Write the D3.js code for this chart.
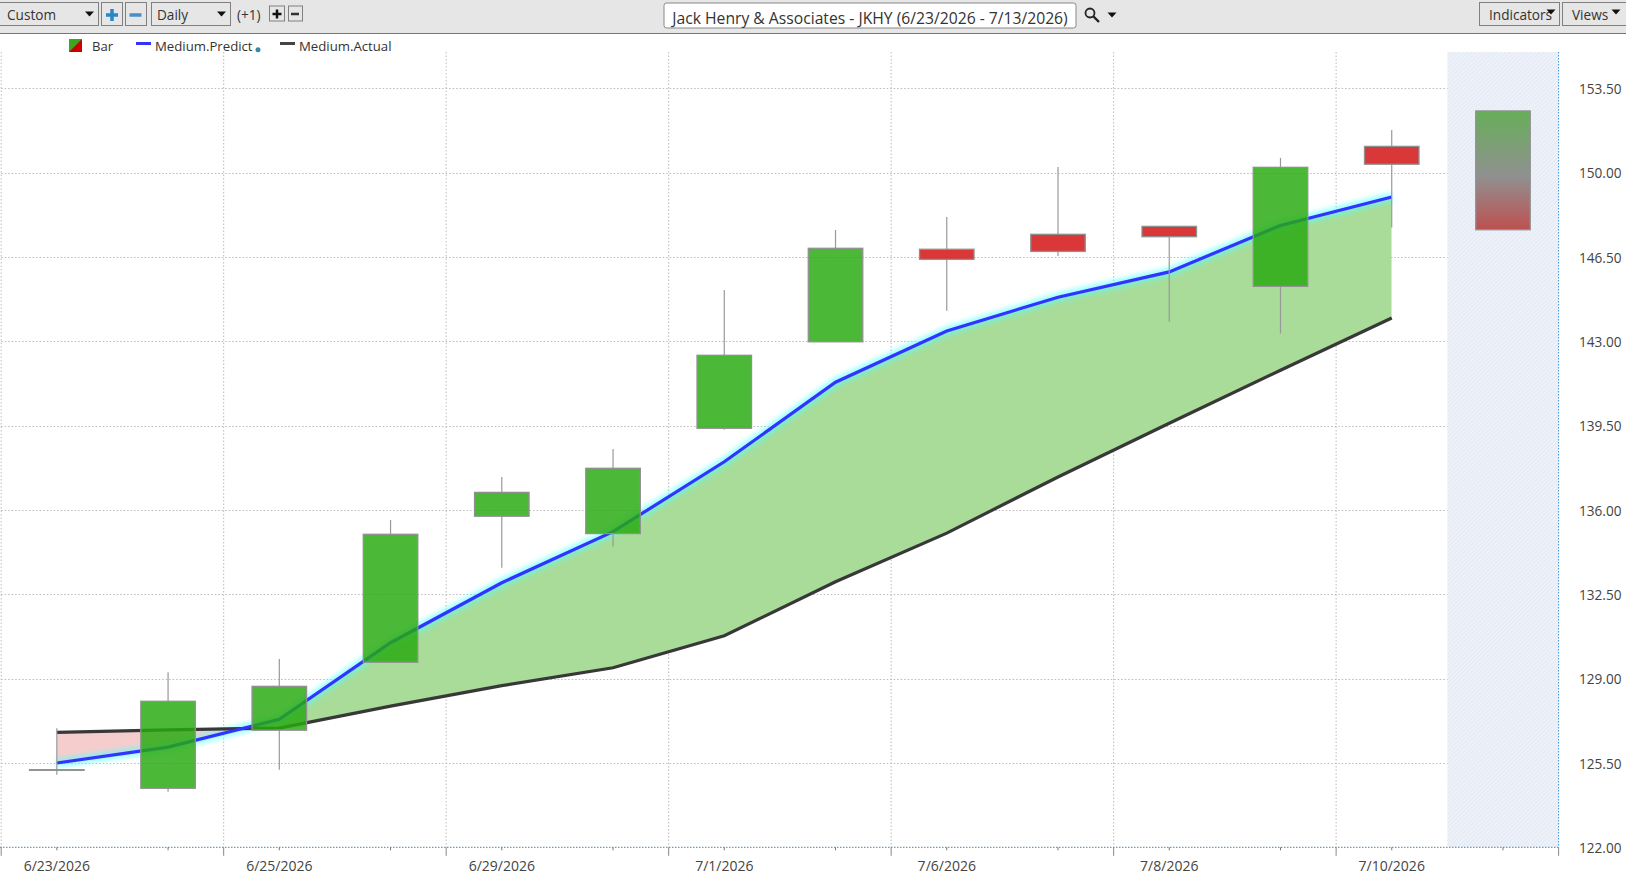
<!DOCTYPE html>
<html>
<head>
<meta charset="utf-8">
<script src="https://cdn.jsdelivr.net/npm/d3@7"></script>
<style>
  body { margin: 0; background: #fff; overflow: hidden; }
  svg { display: block; }
  text { font-family: "Open Sans", "Noto Sans", sans-serif; fill: #333; }
  .axis text { fill: #444; }
  .axis .domain { display: none; }
</style>
</head>
<body>
<div id="chart"></div>
<script>
/**
 * DATA
 * */
const dates = ["6/23/2026", "6/24/2026", "6/25/2026", "6/26/2026", "6/29/2026", "6/30/2026", "7/1/2026",
  "7/2/2026", "7/6/2026", "7/7/2026", "7/8/2026", "7/9/2026", "7/10/2026", "7/13/2026"];
const opens = [125.22, 124.45, 126.86, 129.68, 135.74, 135.02, 139.39, 142.98, 146.82, 147.44, 147.77, 145.28, 151.09];
const closes = [125.22, 128.06, 128.68, 134.99, 136.73, 137.73, 142.42, 146.86, 146.40, 146.73, 147.34, 150.22, 150.35];
const highs = [126.94, 129.26, 129.81, 135.58, 137.37, 138.53, 145.13, 147.62, 148.16, 150.23, 147.77, 150.61, 151.77];
const lows = [125.01, 124.31, 125.22, 129.68, 133.60, 134.48, 139.33, 142.98, 144.27, 146.54, 143.81, 143.32, 147.72];
const predict = [125.50, 126.16, 127.31, 130.49, 132.98, 135.10, 138.00, 141.30, 143.43, 144.83, 145.88, 147.81, 148.99];
const actual = [126.77, 126.87, 126.95, 127.86, 128.71, 129.45, 130.78, 133.02, 135.04, 137.37, 139.60, 141.80, 143.97];
const forecastHigh = 152.56;
const forecastLow = 147.63;
const yTicks = [122, 125.5, 129, 132.5, 136, 139.5, 143, 146.5, 150, 153.5];

/**
 * CONSTANTS
 * */
const width = 1626, height = 883;
const plot = { left: 1.2, right: 1558.6, top: 52, bottom: 847.3 };
const green = "rgba(40,170,15,0.83)", red = "rgba(214,34,34,0.9)", wick = "#999", edge = "#909090";

const svg = d3.select("#chart").append("svg").attr("width", width).attr("height", height);
const defs = svg.append("defs");

const x = d3.scaleBand().domain(d3.range(dates.length)).range([plot.left, plot.right]);
const y = d3.scaleLinear().domain([122, 153.5]).range([plot.bottom, 88.3]);
const cx = i => x(i) + x.bandwidth() / 2;
const candleW = x.bandwidth() * 0.49;

/**
 * GRID
 * */
const grid = svg.append("g").attr("stroke", "#bbb").attr("stroke-dasharray", "1.5 2");
grid.selectAll("line.h").data(yTicks.slice(1)).join("line")
  .attr("x1", plot.left).attr("x2", plot.right)
  .attr("y1", d => Math.round(y(d)) + 0.5).attr("y2", d => Math.round(y(d)) + 0.5);
grid.selectAll("line.v").data(dates.map((d, i) => i).filter(i => i % 2 == 0)).join("line")
  .attr("x1", i => x(i)).attr("x2", i => x(i))
  .attr("y1", plot.top).attr("y2", plot.bottom);

/**
 * FORECAST BAND
 * */
const hatch = defs.append("pattern").attr("id", "hatch").attr("width", 3).attr("height", 3)
  .attr("patternUnits", "userSpaceOnUse").attr("patternTransform", "rotate(45)");
hatch.append("rect").attr("width", 3).attr("height", 3).attr("fill", "#f0f3f9");
hatch.append("rect").attr("width", 1.5).attr("height", 3).attr("fill", "#e4eaf5");

svg.append("rect")
  .attr("x", x(13)).attr("y", plot.top)
  .attr("width", x.bandwidth()).attr("height", plot.bottom - plot.top)
  .attr("fill", "url(#hatch)");
svg.append("line")
  .attr("x1", plot.right).attr("x2", plot.right).attr("y1", plot.top).attr("y2", plot.bottom)
  .attr("stroke", "#3a96dd").attr("stroke-dasharray", "1.5 1.5");

/**
 * AREA BETWEEN THE TWO LINES
 * */
const idx = d3.range(predict.length);
const between = d3.area().x(cx).y0(i => y(predict[i])).y1(i => y(actual[i]));
defs.append("clipPath").attr("id", "aboveActual").append("path")
  .attr("d", d3.area().x(cx).y0(0).y1(i => y(actual[i]))(idx));
defs.append("clipPath").attr("id", "belowActual").append("path")
  .attr("d", d3.area().x(cx).y0(height).y1(i => y(actual[i]))(idx));

svg.append("path").attr("d", between(idx)).attr("fill", "#a9dc99").attr("clip-path", "url(#aboveActual)");
svg.append("path").attr("d", between(idx)).attr("fill", "#f6cdcd").attr("clip-path", "url(#belowActual)");

/**
 * LINES
 * */
const line = d3.line().x(cx);
defs.append("filter").attr("id", "glow").attr("x", "-5%").attr("y", "-5%").attr("width", "110%").attr("height", "110%")
  .append("feGaussianBlur").attr("stdDeviation", 2.4);

svg.append("path").datum(idx).attr("fill", "none")
  .attr("stroke", "#55ffff").attr("stroke-opacity", 0.6).attr("stroke-width", 9).attr("filter", "url(#glow)")
  .attr("d", line.y(i => y(predict[i])));
svg.append("path").datum(idx).attr("fill", "none")
  .attr("stroke", "#383838").attr("stroke-width", 3.2)
  .attr("d", line.y(i => y(actual[i])));
svg.append("path").datum(idx).attr("fill", "none")
  .attr("stroke", "#3333ff").attr("stroke-width", 3.2)
  .attr("d", line.y(i => y(predict[i])));

/**
 * CANDLES
 * */
const bodyTop = i => y(Math.max(opens[i], closes[i]));
const bodyBottom = i => y(Math.min(opens[i], closes[i]));
const candles = svg.append("g").selectAll("g").data(opens.map((d, i) => i)).join("g");
candles.append("line")
  .attr("x1", cx).attr("x2", cx)
  .attr("y1", i => y(highs[i])).attr("y2", bodyTop)
  .attr("stroke", wick).attr("stroke-width", 1.2);
candles.append("line")
  .attr("x1", cx).attr("x2", cx)
  .attr("y1", bodyBottom).attr("y2", i => y(lows[i]))
  .attr("stroke", wick).attr("stroke-width", 1.2);
candles.append("rect")
  .attr("x", i => cx(i) - candleW / 2)
  .attr("width", candleW)
  .attr("y", bodyTop)
  .attr("height", i => Math.max(0.6, bodyBottom(i) - bodyTop(i)))
  .attr("fill", i => closes[i] >= opens[i] ? green : red)
  .attr("stroke", edge).attr("stroke-width", 1.3);

const fc = defs.append("linearGradient").attr("id", "forecast").attr("x1", 0).attr("x2", 0).attr("y1", 0).attr("y2", 1);
fc.append("stop").attr("offset", "0%").attr("stop-color", "#67ae59");
fc.append("stop").attr("offset", "55%").attr("stop-color", "#909090");
fc.append("stop").attr("offset", "100%").attr("stop-color", "#bd5150");
svg.append("rect")
  .attr("x", cx(13) - candleW / 2).attr("width", candleW)
  .attr("y", y(forecastHigh)).attr("height", y(forecastLow) - y(forecastHigh))
  .attr("fill", "url(#forecast)").attr("stroke", edge).attr("stroke-width", 1.3);

/**
 * AXES
 * */
svg.append("line")
  .attr("x1", 0).attr("x2", plot.right).attr("y1", plot.bottom).attr("y2", plot.bottom)
  .attr("stroke", "#4a86a8").attr("stroke-dasharray", "1.5 1.5");

const xAxis = svg.append("g").attr("class", "axis")
  .attr("transform", `translate(0,${plot.bottom})`)
  .call(d3.axisBottom(x).tickSize(3).tickPadding(11).tickFormat(i => i % 2 == 0 ? dates[i] : ""));
xAxis.selectAll("line").attr("stroke", "#777");
xAxis.selectAll("text").attr("font-size", 14);

svg.append("g").selectAll("line").data(d3.range(0, 15, 2)).join("line")
  .attr("x1", i => plot.left + i * x.step()).attr("x2", i => plot.left + i * x.step())
  .attr("y1", plot.bottom).attr("y2", plot.bottom + 8.5)
  .attr("stroke", "#888");

const yAxis = svg.append("g").attr("class", "axis")
  .attr("transform", "translate(1579,1)")
  .call(d3.axisRight(y).tickValues(yTicks).tickSize(0).tickPadding(0).tickFormat(d3.format(".2f")));
yAxis.selectAll("text").attr("font-size", 13.6);

/**
 * LEGEND
 * */
const legend = svg.append("g");
legend.append("rect").attr("x", 69).attr("y", 39).attr("width", 13).attr("height", 13).attr("fill", "#cc0000");
legend.append("path").attr("d", "M69,39H82L69,52Z").attr("fill", "#38a820");
legend.append("text").attr("x", 92).attr("y", 51).attr("font-size", 13.1).text("Bar");
legend.append("line").attr("x1", 136).attr("x2", 151).attr("y1", 43.5).attr("y2", 43.5)
  .attr("stroke", "#3333ff").attr("stroke-width", 3);
legend.append("text").attr("x", 155).attr("y", 51).attr("font-size", 13.2).text("Medium.Predict");
legend.append("circle").attr("cx", 258).attr("cy", 49.7).attr("r", 2.5).attr("fill", "#3a88a8");
legend.append("line").attr("x1", 280).attr("x2", 295).attr("y1", 43.5).attr("y2", 43.5)
  .attr("stroke", "#444").attr("stroke-width", 3);
legend.append("text").attr("x", 299).attr("y", 51).attr("font-size", 13.2).text("Medium.Actual");

/**
 * TOOLBAR
 * */
const bar = svg.append("g");
bar.append("rect").attr("width", width).attr("height", 33).attr("fill", "#e6e6e6");
bar.append("line").attr("x1", 0).attr("x2", width).attr("y1", 33.5).attr("y2", 33.5).attr("stroke", "#3d85c0");

function box(x0, x1, y0 = 2.5, y1 = 25.5, fill = "#e6e6e6") {
  bar.append("rect").attr("x", x0 + 0.5).attr("y", y0).attr("width", x1 - x0).attr("height", y1 - y0)
    .attr("fill", fill).attr("stroke", "#808080");
}
function label(text, xPos, size = 13.6, anchor = "start", yPos = 20) {
  bar.append("text").attr("x", xPos).attr("y", yPos).attr("font-size", size).attr("text-anchor", anchor)
    .attr("fill", "#222").text(text);
}
function arrow(xc, yc = 14, s = 4.5) {
  bar.append("path").attr("d", `M${xc - s},${yc - 2.5}H${xc + s}L${xc},${yc + 2.5}Z`).attr("fill", "#111");
}
function plus(xc, yc, s, t, color) {
  bar.append("rect").attr("x", xc - s).attr("y", yc - t / 2).attr("width", s * 2).attr("height", t).attr("fill", color);
  bar.append("rect").attr("x", xc - t / 2).attr("y", yc - s).attr("width", t).attr("height", s * 2).attr("fill", color);
}
function minus(xc, yc, s, t, color) {
  bar.append("rect").attr("x", xc - s).attr("y", yc - t / 2).attr("width", s * 2).attr("height", t).attr("fill", color);
}

box(-1, 98); label("Custom", 7); arrow(89.5);
box(101, 122); plus(112, 15, 6, 3.5, "#2a85c9");
box(125, 146); minus(135.5, 15, 6, 3.5, "#4a90c8");
box(151, 230); label("Daily", 157); arrow(221.5);
label("(+1)", 237);
box(269, 284, 6, 21); plus(277, 14, 4.5, 2.5, "#111");
box(288, 302, 6, 21); minus(295, 14, 4, 2.5, "#333");

bar.append("rect").attr("x", 664).attr("y", 3).attr("width", 412).attr("height", 25).attr("rx", 2.5)
  .attr("fill", "#fff").attr("stroke", "#888");
label("Jack Henry & Associates - JKHY (6/23/2026 - 7/13/2026)", 870, 15.7, "middle", 24);

bar.append("circle").attr("cx", 1090).attr("cy", 13).attr("r", 4.5).attr("fill", "none").attr("stroke", "#222").attr("stroke-width", 1.8);
bar.append("line").attr("x1", 1093.5).attr("y1", 16.5).attr("x2", 1099).attr("y2", 22).attr("stroke", "#222").attr("stroke-width", 2.4);
arrow(1112, 15);

box(1479, 1559); label("Indicators", 1489, 13.6); arrow(1551, 12);
box(1562, 1627); label("Views", 1572, 13.6); arrow(1616, 12);
</script>
</body>
</html>
